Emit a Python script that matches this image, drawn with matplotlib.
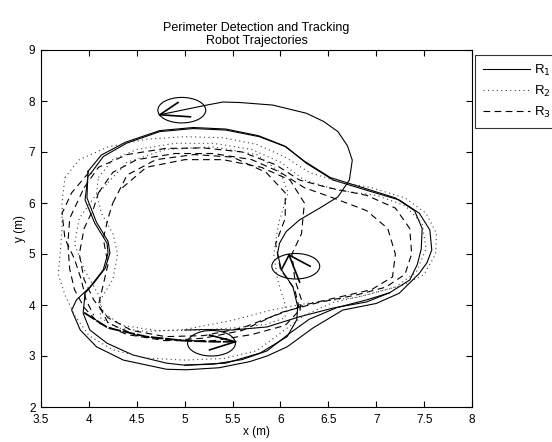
import matplotlib
matplotlib.use("Agg")
import matplotlib.pyplot as plt
from matplotlib.patches import Ellipse

plt.rcParams["font.family"] = ["Liberation Sans", "DejaVu Sans"]

# robot 1 (solid) - two laps, start tail, approach arc from the top circle
r1_lap1_x = [4.02, 4.15, 4.39, 4.74, 5.09, 5.43, 5.78, 6.06, 6.27, 6.55, 6.9, 7.24, 7.45, 7.56, 7.58, 7.53, 7.45,
             7.24, 7.0, 6.65, 6.34, 6.07, 5.86, 5.68, 5.36, 5.02, 4.81, 4.36, 4.08, 3.91, 3.82, 3.87, 4.01, 4.15,
             4.2, 4.19, 4.06, 3.96, 3.99, 4.02]
r1_lap1_y = [6.58, 6.91, 7.17, 7.4, 7.46, 7.43, 7.3, 7.1, 6.78, 6.45, 6.25, 6.06, 5.8, 5.47, 5.08, 4.83, 4.62,
             4.23, 4.03, 3.9, 3.55, 3.18, 3.0, 2.89, 2.77, 2.73, 2.74, 2.92, 3.18, 3.51, 3.9, 4.1, 4.35, 4.69,
             5.02, 5.21, 5.61, 6.06, 6.52, 6.58]
r1_lap2_x = [3.99, 4.13, 4.38, 4.74, 5.09, 5.43, 5.77, 6.04, 6.25, 6.52, 6.86, 7.2, 7.4, 7.48, 7.47, 7.43, 7.35,
             7.14, 6.9, 6.59, 6.3, 6.1, 5.86, 5.6, 5.3, 5.0, 4.81, 4.46, 4.19, 4.01, 3.94, 3.96, 4.06, 4.17, 4.22,
             4.2, 4.08, 3.98, 3.99]
r1_lap2_y = [6.62, 6.94, 7.19, 7.42, 7.48, 7.45, 7.32, 7.12, 6.82, 6.5, 6.3, 6.1, 5.85, 5.5, 5.1, 4.8, 4.49,
             4.24, 4.1, 3.95, 3.72, 3.45, 3.1, 2.93, 2.84, 2.82, 2.86, 3.02, 3.25, 3.51, 3.84, 4.23, 4.45, 4.72,
             5.02, 5.25, 5.62, 6.1, 6.62]
r1_tail_x = [5.0, 5.25, 5.5, 5.86, 6.2, 6.55, 6.9, 7.14]
r1_tail_y = [3.51, 3.52, 3.51, 3.57, 3.77, 3.94, 4.06, 4.24]
r1_arc_x = [4.74, 5.23, 5.4, 5.58, 5.92, 6.27, 6.45, 6.6, 6.7, 6.75, 6.72, 6.6, 6.41, 6.2, 6.06, 5.99, 5.97, 6.01,
            6.13, 6.18, 6.17, 6.07, 5.79, 5.43, 5.0]
r1_arc_y = [7.73, 7.92, 7.98, 7.97, 7.92, 7.76, 7.6, 7.4, 7.12, 6.84, 6.45, 6.12, 5.9, 5.67, 5.44, 5.21, 5.01,
            4.69, 4.36, 3.97, 3.71, 3.38, 3.06, 2.86, 2.82]

# robot 2 (dotted)
r2_out_x = [3.75, 3.9, 4.2, 4.6, 5.0, 5.4, 5.75, 6.05, 6.3, 6.6, 6.95, 7.3, 7.52, 7.63, 7.62, 7.5, 7.3, 6.9, 6.55,
            6.25, 6.0, 5.75, 5.4, 5.0, 4.6, 4.25, 4.0, 3.85, 3.75, 3.68, 3.7, 3.72, 3.72, 3.75]
r2_out_y = [6.5, 6.85, 7.1, 7.25, 7.3, 7.28, 7.15, 6.9, 6.6, 6.42, 6.3, 6.1, 5.8, 5.4, 5.0, 4.6, 4.4, 4.2, 4.05,
            3.8, 3.45, 3.1, 2.95, 2.92, 2.96, 3.12, 3.4, 3.8, 4.2, 4.6, 5.0, 5.5, 6.0, 6.5]
r2_mid_x = [4.1, 4.25, 4.5, 4.9, 5.3, 5.7, 6.0, 6.25, 6.6, 7.0, 7.3, 7.48, 7.52, 7.42, 7.2, 6.8, 6.3, 5.9, 5.5, 5.0,
            4.6, 4.3, 4.12, 4.12, 4.25, 4.3, 4.25, 4.13, 4.08, 4.1]
r2_mid_y = [6.5, 6.85, 7.05, 7.17, 7.17, 7.05, 6.8, 6.45, 6.25, 6.15, 5.95, 5.6, 5.1, 4.65, 4.35, 4.15, 4.04, 3.9,
            3.7, 3.52, 3.48, 3.55, 3.75, 4.1, 4.5, 5.0, 5.4, 5.8, 6.2, 6.5]
r2_in_x = [4.2, 4.4, 4.8, 5.3, 5.75, 6.0, 6.08, 5.98, 5.93, 5.97, 6.05, 6.05, 5.85, 5.5, 5.1, 4.7, 4.35, 4.15, 4.1,
           3.95, 3.85, 3.9, 4.05, 4.2]
r2_in_y = [6.4, 6.8, 7.05, 7.1, 6.95, 6.6, 6.2, 5.6, 5.0, 4.5, 4.0, 3.75, 3.62, 3.55, 3.5, 3.5, 3.6, 3.85, 4.2, 4.7,
           5.2, 5.7, 6.1, 6.4]

# robot 3 (dashed)
r3_a_x = [3.95, 4.1, 4.4, 4.8, 5.2, 5.6, 5.95, 6.2, 6.5, 6.9, 7.2, 7.35, 7.37, 7.3, 7.1, 6.8, 6.4, 6.0, 5.6, 5.2,
          4.8, 4.4, 4.1, 3.95, 3.85, 3.8, 3.78, 3.8, 3.95]
r3_a_y = [6.3, 6.7, 6.95, 7.07, 7.08, 7.0, 6.75, 6.45, 6.3, 6.15, 5.9, 5.5, 5.0, 4.6, 4.35, 4.2, 4.05, 3.85, 3.5,
          3.35, 3.3, 3.42, 3.65, 3.95, 4.3, 4.7, 5.2, 5.7, 6.3]
r3_b_x = [4.1, 4.25, 4.5, 4.9, 5.3, 5.7, 6.0, 6.25, 6.55, 6.9, 7.12, 7.2, 7.17, 6.95, 6.6, 6.25, 5.95, 5.6, 5.2,
          4.8, 4.45, 4.2, 4.05, 3.95, 3.9, 3.95, 4.05, 4.1]
r3_b_y = [6.2, 6.6, 6.85, 6.97, 6.97, 6.85, 6.6, 6.3, 6.1, 5.85, 5.5, 5.0, 4.55, 4.3, 4.15, 4.0, 3.8, 3.55, 3.4,
          3.38, 3.5, 3.75, 4.1, 4.5, 5.0, 5.5, 5.9, 6.2]
r3_c_x = [4.25, 4.4, 4.7, 5.1, 5.5, 5.85, 6.05, 6.05, 5.95, 6.0, 6.15, 6.2, 6.05, 5.7, 5.3, 4.9, 4.5, 4.2, 4.1,
          4.15, 4.2, 4.15, 4.2, 4.25]
r3_c_y = [6.0, 6.55, 6.85, 6.95, 6.9, 6.6, 6.2, 5.7, 5.2, 4.7, 4.3, 3.9, 3.6, 3.42, 3.3, 3.3, 3.4, 3.65, 4.0, 4.4,
          4.8, 5.3, 5.7, 6.0]
r3_d_x = [4.35, 4.6, 5.0, 5.4, 5.8, 6.1, 6.25, 6.22, 6.12, 6.15, 6.22, 6.2]
r3_d_y = [6.3, 6.7, 6.85, 6.85, 6.7, 6.45, 6.0, 5.4, 5.0, 4.5, 4.1, 3.85]
r3_e_x = [4.0, 3.82, 3.72, 3.75, 3.85, 3.92, 3.97, 4.05]
r3_e_y = [6.6, 6.2, 5.8, 5.3, 4.9, 4.5, 4.1, 3.8]
r3_end_x = [3.95, 4.2, 4.6, 5.0, 5.3, 5.53]
r3_end_y = [3.85, 3.55, 3.38, 3.3, 3.28, 3.28]

# sensing circles (centres) and rays (apex, ends)
circle_x = [4.97, 6.16, 5.28]
circle_y = [7.82, 4.76, 3.25]
ray_apex = [(4.74, 7.73), (6.09, 4.98), (5.53, 3.28)]
ray_ends = [[(4.93, 7.97), (5.06, 7.69)],
            [(6.31, 4.76), (6.01, 4.69), (6.2, 4.45)],
            [(5.26, 3.41), (5.26, 3.12)]]

fig = plt.figure(figsize=(5.52, 4.42), dpi=100)
ax = fig.add_axes([41 / 552, 35 / 442, 431 / 552, 357 / 442])

lw = 0.8
dash = (6, 4)
dot = (1, 3)
ax.plot(r1_lap1_x, r1_lap1_y, "k-", lw=lw, label="R$_1$")
ax.plot(r1_lap2_x, r1_lap2_y, "k-", lw=lw)
ax.plot(r1_tail_x, r1_tail_y, "k-", lw=lw)
ax.plot(r1_arc_x, r1_arc_y, "k-", lw=lw)

ax.plot(r2_out_x, r2_out_y, color="0.25", ls=(0, dot), lw=lw, label="R$_2$")
ax.plot(r2_mid_x, r2_mid_y, color="0.25", ls=(0, dot), lw=lw)
ax.plot(r2_in_x, r2_in_y, color="0.25", ls=(0, dot), lw=lw)

ax.plot(r3_a_x, r3_a_y, "k", ls=(0, dash), lw=lw, label="R$_3$")
ax.plot(r3_b_x, r3_b_y, "k", ls=(0, dash), lw=lw)
ax.plot(r3_c_x, r3_c_y, "k", ls=(0, dash), lw=lw)
ax.plot(r3_d_x, r3_d_y, "k", ls=(0, dash), lw=lw)
ax.plot(r3_e_x, r3_e_y, "k", ls=(0, dash), lw=lw)
ax.plot(r3_end_x, r3_end_y, "k", ls=(0, (7, 1)), lw=1.3)

for cx, cy in zip(circle_x, circle_y):
    ax.add_patch(Ellipse((cx, cy), 0.5, 0.5, fill=False, lw=lw, color="k"))
for (ax0, ay0), ends in zip(ray_apex, ray_ends):
    for ex, ey in ends:
        ax.plot([ax0, ex], [ay0, ey], "k-", lw=1.2)

ax.set_xlim(3.5, 8)
ax.set_ylim(2, 9)
ax.set_xticks([3.5, 4, 4.5, 5, 5.5, 6, 6.5, 7, 7.5, 8])
ax.set_xticklabels(["3.5", "4", "4.5", "5", "5.5", "6", "6.5", "7", "7.5", "8"])
ax.set_yticks(range(2, 10))
ax.tick_params(direction="in", top=True, right=True, labelsize=8.5, length=4, width=0.8)
ax.tick_params(axis="x", pad=5)
ax.tick_params(axis="y", pad=4)
for s in ax.spines.values():
    s.set_linewidth(0.8)
ax.set_xlabel("x (m)", fontsize=8.5, labelpad=0)
ax.set_ylabel("y (m)", fontsize=8.5, labelpad=2)
ax.set_title("Perimeter Detection and Tracking\nRobot Trajectories", fontsize=9, pad=4)

leg = ax.legend(loc="upper left", bbox_to_anchor=(475 / 552, 1 - 55 / 442), bbox_transform=fig.transFigure,
                borderaxespad=0, fontsize=9.5, handlelength=3.6, frameon=True, fancybox=False,
                edgecolor="k", borderpad=0.6, labelspacing=0.45, handletextpad=0.3)
leg.get_frame().set_linewidth(0.8)

fig.savefig("out.png", dpi=100)
